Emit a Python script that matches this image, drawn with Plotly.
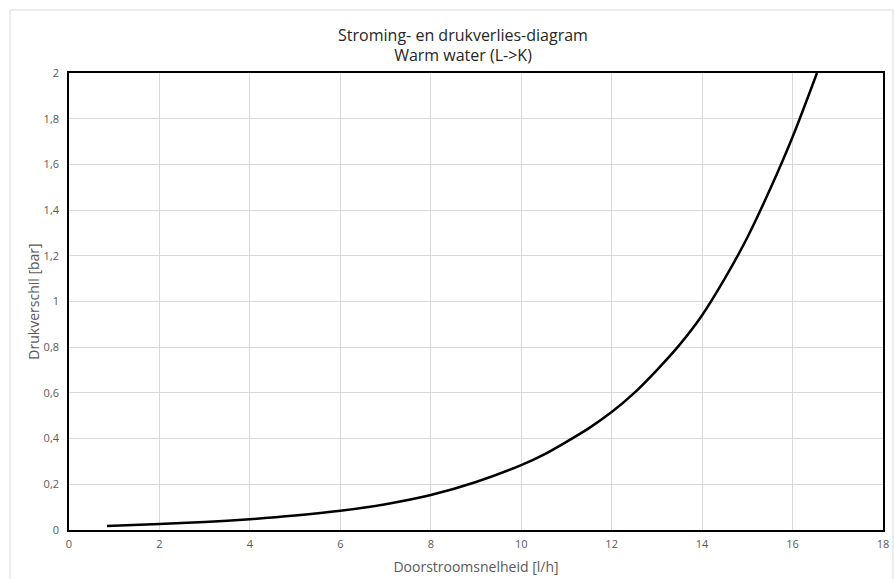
import plotly.graph_objects as go

# Flow rate [l/h] and pressure drop [bar] along the characteristic curve
flow = [0.84, 2, 3, 4, 5, 6, 7, 8, 9, 10, 10.5, 11, 11.5, 12, 12.5, 13,
        13.5, 14, 14.5, 15, 15.5, 16, 16.54]
pressure = [0.0175, 0.026, 0.035, 0.047, 0.063, 0.084, 0.113, 0.153, 0.21,
            0.284, 0.33, 0.386, 0.446, 0.516, 0.60, 0.70, 0.81, 0.94, 1.10,
            1.28, 1.49, 1.72, 2.0]

x_ticks = [0, 2, 4, 6, 8, 10, 12, 14, 16, 18]
y_ticks = [0, 0.2, 0.4, 0.6, 0.8, 1.0, 1.2, 1.4, 1.6, 1.8, 2.0]

W, H = 894, 579
ML, MR, MT, MB = 69, 11, 73, 49
pw, ph = W - ML - MR, H - MT - MB

FONT = "Open Sans"
TICK_COL = "#595959"

fig = go.Figure()
fig.add_trace(go.Scatter(
    x=flow, y=pressure, mode="lines",
    line=dict(color="black", width=2.5, shape="spline", smoothing=0.8),
    hoverinfo="x+y", showlegend=False,
))

axis_common = dict(
    showgrid=True, gridcolor="#d9d9d9", gridwidth=1,
    showline=True, linecolor="black", linewidth=1.5, mirror=True,
    zeroline=False, ticks="", automargin=False,
    tickfont=dict(family=FONT, size=11, color=TICK_COL),
)

fig.update_layout(
    width=W, height=H,
    margin=dict(l=ML, r=MR, t=MT, b=MB),
    paper_bgcolor="white", plot_bgcolor="white",
    separators=",.",
    title=dict(
        text="Stroming- en drukverlies-diagram<br>Warm water (L->K)",
        font=dict(family=FONT, size=16, color="#262626"),
        x=463 / W, xanchor="center", y=1 - 40.5 / H, yanchor="middle",
    ),
    xaxis=dict(
        range=[0, 18], tickvals=x_ticks, ticklabelstandoff=3,
        title=dict(text="Doorstroomsnelheid [l/h]", standoff=12,
                   font=dict(family=FONT, size=14, color=TICK_COL)),
        **axis_common,
    ),
    yaxis=dict(
        range=[0, 2], tickvals=y_ticks, ticklabelstandoff=6,
        title=dict(text="Drukverschil [bar]", standoff=1,
                   font=dict(family=FONT, size=14, color=TICK_COL)),
        **axis_common,
    ),
)

# Light frame around the whole chart
fig.add_shape(
    type="rect", xref="paper", yref="paper",
    x0=(10 - ML) / pw, x1=(893 - ML) / pw,
    y0=-(590 - (H - MB)) / ph, y1=1 + (MT - 10) / ph,
    line=dict(color="#d9d9d9", width=1), layer="below",
)

fig.write_html("out.html")
